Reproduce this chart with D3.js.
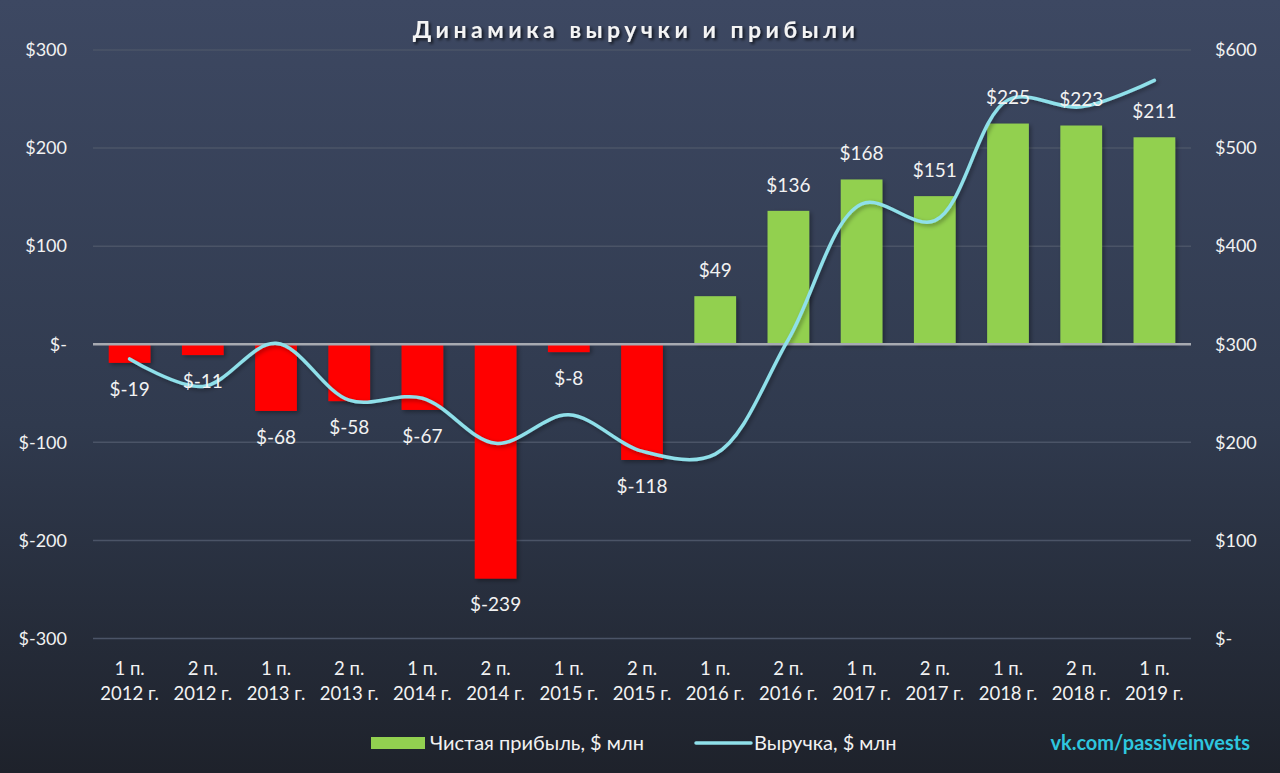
<!DOCTYPE html>
<html>
<head>
<meta charset="utf-8">
<script src="https://cdn.jsdelivr.net/npm/d3@7"></script>
<style>
  body { margin: 0; background: #2c3442; }
  svg { display: block; font-family: Lato, "Open Sans", sans-serif; }
</style>
</head>
<body>
<div id="chart"></div>
<script>
// Revenue and profit dynamics

// Data
var periods = ["1 п.|2012 г.", "2 п.|2012 г.", "1 п.|2013 г.", "2 п.|2013 г.", "1 п.|2014 г.",
  "2 п.|2014 г.", "1 п.|2015 г.", "2 п.|2015 г.", "1 п.|2016 г.", "2 п.|2016 г.",
  "1 п.|2017 г.", "2 п.|2017 г.", "1 п.|2018 г.", "2 п.|2018 г.", "1 п.|2019 г."];
var profit = [-19, -11, -68, -58, -67, -239, -8, -118, 49, 136, 168, 151, 225, 223, 211];
var revenue = [285, 257, 301, 243, 245, 199, 228, 191, 188, 305, 443, 426, 549, 542, 569];
var leftTicks = [-300, -200, -100, 0, 100, 200, 300];
var rightTicks = [0, 100, 200, 300, 400, 500, 600];

// SVG area
var svgWidth = 1280;
var svgHeight = 773;
var margin = { top: 50, right: 89, bottom: 134.5, left: 93 };
var width = svgWidth - margin.left - margin.right;
var height = svgHeight - margin.top - margin.bottom;

var svg = d3.select("#chart")
  .append("svg")
  .attr("width", svgWidth)
  .attr("height", svgHeight);

var defs = svg.append("defs");

// background gradient
var grad = defs.append("linearGradient")
  .attr("id", "bg")
  .attr("x1", 0).attr("y1", 0).attr("x2", 0).attr("y2", 1);
grad.append("stop").attr("offset", "0%").attr("stop-color", "#3d4862");
grad.append("stop").attr("offset", "55%").attr("stop-color", "#303a4e");
grad.append("stop").attr("offset", "100%").attr("stop-color", "#1e222b");

// soft shadows
var shadow = defs.append("filter").attr("id", "shadow")
  .attr("x", "-20%").attr("y", "-20%").attr("width", "140%").attr("height", "140%");
shadow.append("feDropShadow")
  .attr("dx", 2).attr("dy", 2).attr("stdDeviation", 2)
  .attr("flood-color", "#000").attr("flood-opacity", 0.35);

var titleShadow = defs.append("filter").attr("id", "tshadow");
titleShadow.append("feDropShadow")
  .attr("dx", 2).attr("dy", 2).attr("stdDeviation", 1.5)
  .attr("flood-color", "#000").attr("flood-opacity", 0.7);

svg.append("rect")
  .attr("width", svgWidth)
  .attr("height", svgHeight)
  .attr("fill", "url(#bg)");

var chartGroup = svg.append("g")
  .attr("transform", `translate(${margin.left},${margin.top})`);

// scales
var xScale = d3.scaleBand()
  .domain(periods)
  .range([0, width])
  .paddingInner(0.43)
  .paddingOuter(0.215);

var yLeft = d3.scaleLinear()
  .domain([-300, 300])
  .range([height, 0]);

var yRight = d3.scaleLinear()
  .domain([0, 600])
  .range([height, 0]);

// gridlines
chartGroup.append("g")
  .selectAll("line")
  .data(leftTicks.filter(d => d !== 0))
  .enter()
  .append("line")
  .attr("x1", 0)
  .attr("x2", width)
  .attr("y1", d => yLeft(d))
  .attr("y2", d => yLeft(d))
  .attr("stroke", "#4b5467")
  .attr("stroke-width", 1.5);

// left axis
var leftAxis = d3.axisLeft(yLeft)
  .tickValues(leftTicks)
  .tickSize(0)
  .tickPadding(26)
  .tickFormat(d => d === 0 ? "$-" : "$" + d);

var gLeft = chartGroup.append("g").call(leftAxis);
gLeft.select(".domain").remove();
gLeft.selectAll("text")
  .attr("fill", "#f2f2f2")
  .style("font-size", "18px")
  .style("font-family", "Lato, sans-serif");

// right axis
var rightAxis = d3.axisRight(yRight)
  .tickValues(rightTicks)
  .tickSize(0)
  .tickPadding(24)
  .tickFormat(d => d === 0 ? "$-" : "$" + d);

var gRight = chartGroup.append("g")
  .attr("transform", `translate(${width},0)`)
  .call(rightAxis);
gRight.select(".domain").remove();
gRight.selectAll("text")
  .attr("fill", "#f2f2f2")
  .style("font-size", "18px")
  .style("font-family", "Lato, sans-serif");

// bars
chartGroup.append("g")
  .attr("filter", "url(#shadow)")
  .selectAll("rect")
  .data(profit)
  .enter()
  .append("rect")
  .attr("x", (d, i) => xScale(periods[i]))
  .attr("width", xScale.bandwidth())
  .attr("y", d => yLeft(Math.max(0, d)))
  .attr("height", d => Math.abs(yLeft(d) - yLeft(0)))
  .attr("fill", d => d < 0 ? "#ff0000" : "#92d050");

// zero line
chartGroup.append("line")
  .attr("x1", 0)
  .attr("x2", width)
  .attr("y1", yLeft(0))
  .attr("y2", yLeft(0))
  .attr("stroke", "#a7aab1")
  .attr("stroke-width", 2.5);

// revenue line
var line = d3.line()
  .x((d, i) => xScale(periods[i]) + xScale.bandwidth() / 2)
  .y(d => yRight(d))
  .curve(d3.curveCatmullRom);

chartGroup.append("path")
  .datum(revenue)
  .attr("d", line)
  .attr("fill", "none")
  .attr("stroke", "#8fe0ea")
  .attr("stroke-width", 3.5)
  .attr("stroke-linecap", "round")
  .attr("filter", "url(#shadow)");

// bar labels
chartGroup.append("g")
  .selectAll("text")
  .data(profit)
  .enter()
  .append("text")
  .attr("x", (d, i) => xScale(periods[i]) + xScale.bandwidth() / 2)
  .attr("y", d => d < 0 ? yLeft(d) + 26 : yLeft(d) - 26)
  .attr("dy", "0.35em")
  .attr("text-anchor", "middle")
  .attr("fill", "#f2f2f2")
  .style("font-size", "19px")
  .text(d => "$" + d);

// x labels (two lines)
var xLabels = chartGroup.append("g")
  .attr("transform", `translate(0,${height})`)
  .selectAll("text")
  .data(periods)
  .enter()
  .append("text")
  .attr("x", d => xScale(d) + xScale.bandwidth() / 2)
  .attr("text-anchor", "middle")
  .attr("fill", "#f2f2f2")
  .style("font-size", "18.5px");

xLabels.append("tspan")
  .attr("x", d => xScale(d) + xScale.bandwidth() / 2)
  .attr("y", 36)
  .text(d => d.split("|")[0]);

xLabels.append("tspan")
  .attr("x", d => xScale(d) + xScale.bandwidth() / 2)
  .attr("y", 61)
  .text(d => d.split("|")[1]);

// title
svg.append("text")
  .attr("x", 636)
  .attr("y", 38)
  .attr("text-anchor", "middle")
  .attr("fill", "#f4f4f4")
  .attr("filter", "url(#tshadow)")
  .style("font-size", "23px")
  .style("font-weight", "bold")
  .style("letter-spacing", "4.5px")
  .text("Динамика выручки и прибыли");

// legend
var legend = svg.append("g");

legend.append("rect")
  .attr("x", 371)
  .attr("y", 737)
  .attr("width", 54)
  .attr("height", 12)
  .attr("fill", "#92d050");

legend.append("text")
  .attr("x", 430)
  .attr("y", 750)
  .attr("fill", "#f2f2f2")
  .style("font-size", "20px")
  .text("Чистая прибыль, $ млн");

legend.append("line")
  .attr("x1", 696)
  .attr("x2", 751)
  .attr("y1", 743)
  .attr("y2", 743)
  .attr("stroke", "#8fe0ea")
  .attr("stroke-width", 3.5)
  .attr("stroke-linecap", "round");

legend.append("text")
  .attr("x", 754)
  .attr("y", 750)
  .attr("fill", "#f2f2f2")
  .style("font-size", "20px")
  .text("Выручка, $ млн");

// watermark
svg.append("text")
  .attr("x", 1250)
  .attr("y", 750)
  .attr("text-anchor", "end")
  .attr("fill", "#2ec6de")
  .style("font-size", "20px")
  .style("font-weight", "bold")
  .text("vk.com/passiveinvests");
</script>
</body>
</html>
